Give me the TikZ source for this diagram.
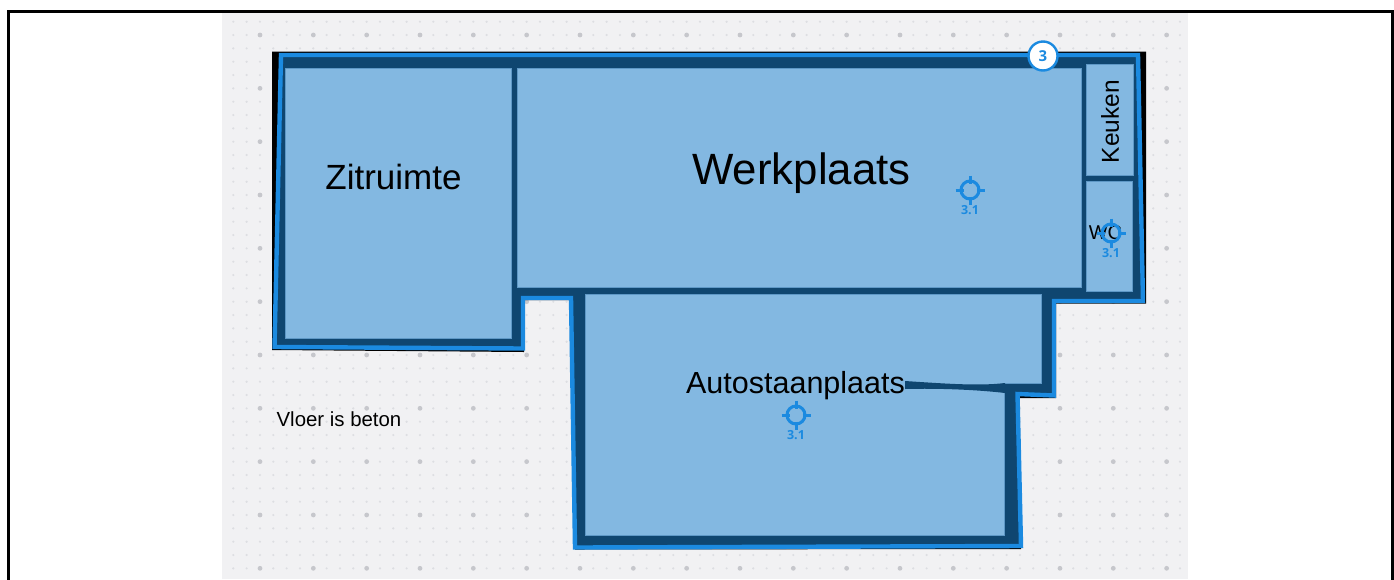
\documentclass[tikz,border=0pt]{standalone}
\usepackage{fontspec}
\setmainfont{Liberation Sans}
\newfontfamily\badgefont{Open Sans}
\definecolor{sheet}{HTML}{F1F1F3}
\definecolor{dotmajor}{HTML}{C6C7CC}
\definecolor{dotminor}{HTML}{DDDEE2}
\definecolor{wallblue}{HTML}{0F4670}
\definecolor{roomblue}{HTML}{83B8E1}
\definecolor{roomedge}{HTML}{5E98C6}
\definecolor{lineblue}{HTML}{1B8AE0}
\tikzset{
  x=1pt,y=-1pt,
  room/.style={fill=roomblue,draw=roomedge,line width=0.7pt},
  outline/.style={draw=lineblue,line width=4.4pt,line join=miter,fill=wallblue},
  roomlabel/.style={inner sep=0pt,text=black},
  pinlabel/.style={inner sep=0pt,text=lineblue,font=\badgefont\bfseries\fontsize{12.5}{12.5}\selectfont},
  targetring/.style={circle,draw=lineblue,line width=3pt,minimum size=18pt,inner sep=0pt},
  tick/.style={draw=lineblue,line width=3pt},
}
\newcommand{\pinmark}[3]{%
  \node[targetring] (#1) at (#2,#3) {};
  \draw[tick] (#1.north) ++(0,-4) -- ++(0,8);
  \draw[tick] (#1.south) ++(0,-4) -- ++(0,8);
  \draw[tick] (#1.west) ++(-4,0) -- ++(8,0);
  \draw[tick] (#1.east) ++(-4,0) -- ++(8,0);
  \node[pinlabel] (#1l) at (#2,#3+20) {3.1};
}
\begin{document}
\begin{tikzpicture}
\useasboundingbox (0,0) rectangle (1394,579);
\fill[white] (0,0) rectangle (1394,579);
% sheet with dot grid
\fill[sheet] (222,13) rectangle (1188,579);
\begin{scope}
\clip (222,13) rectangle (1188,579);
\foreach \i in {0,...,72}{
  \foreach \j in {0,...,42}{
    \fill[dotminor] ({233.3+13.333*\i},{21.7+13.333*\j}) circle (1.2pt);
  }
}
\foreach \i in {0,...,18}{
  \foreach \j in {0,...,10}{
    \fill[dotmajor] ({260+53.33*\i},{35+53.33*\j}) circle (2.4pt);
  }
}
\end{scope}
% frame, open at the bottom
\draw[black,line width=3pt] (8,580) -- (8,11.5) -- (1392,11.5) -- (1392,580);
% black layer behind the outline
\fill[black] (272,51.5) -- (1146,51.5) -- (1146,303.5) -- (1056,303.5) -- (1056,398)
  -- (1019,398) -- (1021,549) -- (575,549.5) -- (571,300) -- (524,300) -- (524,352) -- (272,350) -- cycle;
% building outline
\path[outline] (281,55) -- (1138,55) -- (1143,301) -- (1054,301) -- (1054,395.5)
  -- (1017.5,394) -- (1021,546) -- (575,547.5) -- (571,298) -- (523,298) -- (523,348.5) -- (274.5,347) -- cycle;
% rooms
\draw[room] (285,68) rectangle (511,338);
\draw[room] (517,68) rectangle (1081,287);
\draw[room] (1086,64) rectangle (1133,175);
\draw[room] (1086,181) rectangle (1132,291);
\draw[room] (585,294) -- (1041,294) -- (1041,383) -- (1004,383) -- (1004,535) -- (585,535) -- cycle;
\fill[roomblue] (586,370) rectangle (1003,534);
\fill[wallblue] (905,381) .. controls (950,384) and (980,386) .. (1005,383)
  -- (1005,393) .. controls (980,390) and (940,388) .. (905,389) -- cycle;
% labels
\node[roomlabel,font=\fontsize{35}{35}\selectfont] (zit) at (393.5,177) {Zitruimte};
\node[roomlabel,font=\fontsize{43.8}{44}\selectfont] (werk) at (801.5,173) {Werkplaats};
\node[roomlabel,font=\fontsize{24.5}{25}\selectfont,rotate=90] (keuk) at (1110,121.5) {Keuken};
\node[roomlabel,font=\fontsize{20}{20}\selectfont] (wc) at (1105.5,233) {WC};
\node[roomlabel,font=\fontsize{30.5}{31}\selectfont] (auto) at (795.5,386) {Autostaanplaats};
\node[roomlabel,font=\fontsize{20.4}{21}\selectfont] (vloer) at (339,419) {Vloer is beton};
% markers
\pinmark{pina}{970}{190}
\pinmark{pinb}{1111}{233}
\pinmark{pinc}{796}{415}
% badge
\node[circle,fill=white,draw=lineblue,line width=2.4pt,minimum size=29pt,inner sep=0pt,
  text=lineblue,font=\badgefont\bfseries\fontsize{15}{15}\selectfont] (badge) at (1043,56) {3};
\end{tikzpicture}
\end{document}
